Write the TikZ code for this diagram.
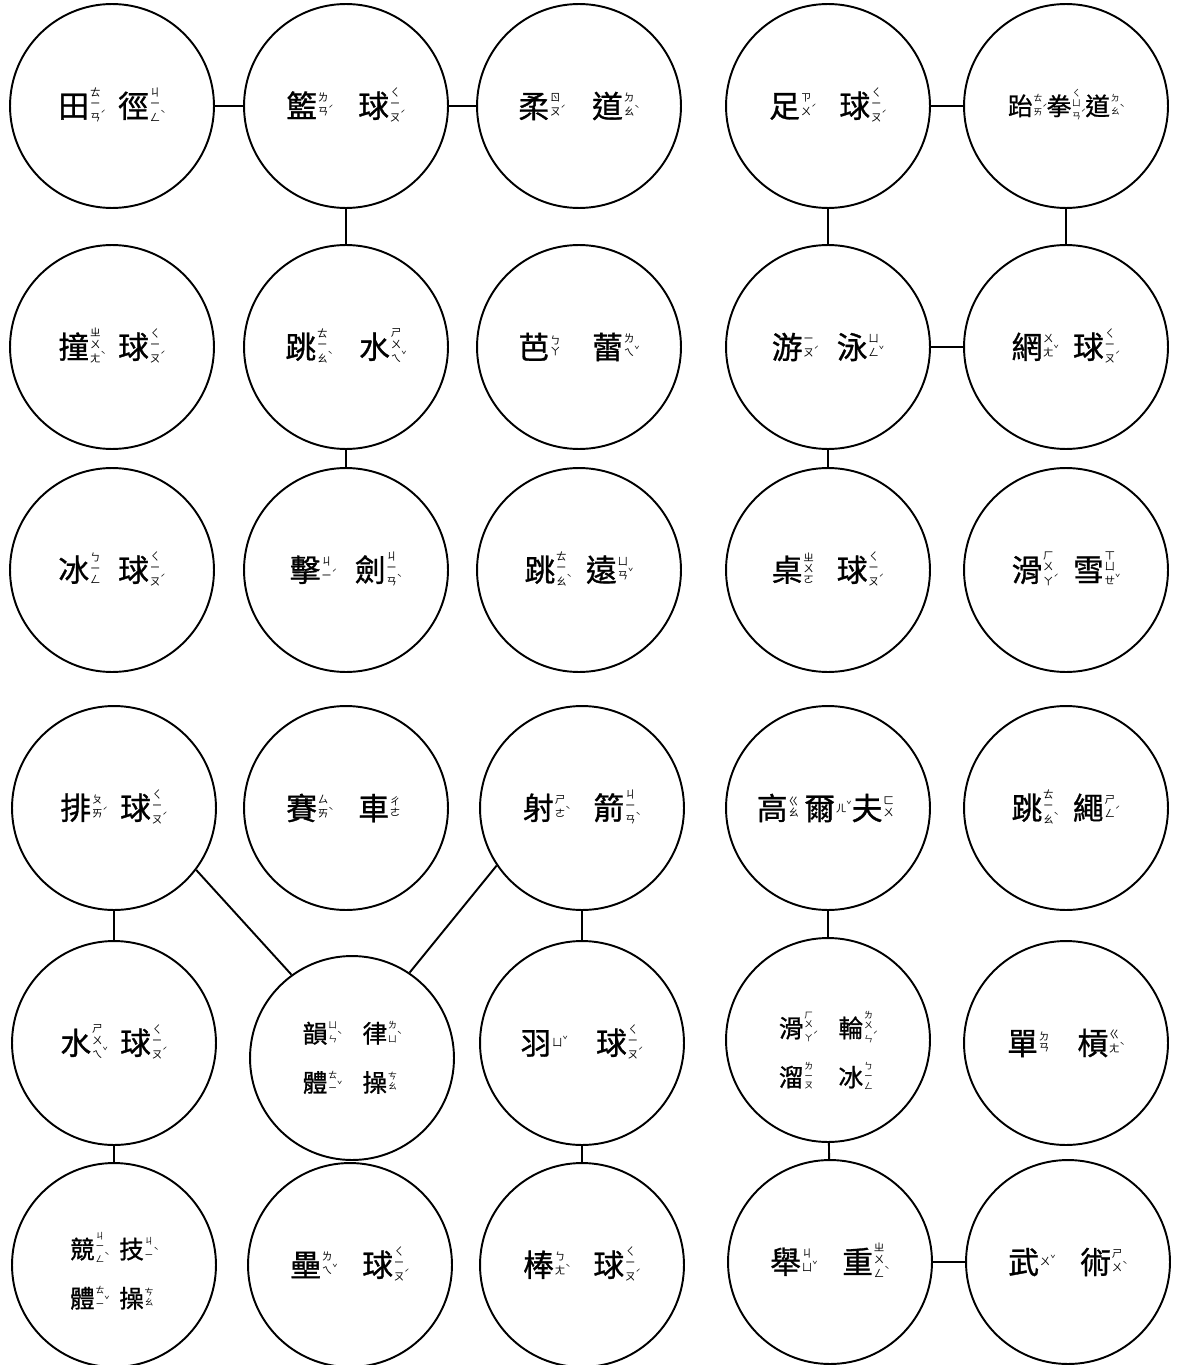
\documentclass[tikz,border=0pt]{standalone}
\usepackage{fontspec}
\newfontfamily\cjk{Noto Sans CJK TC}
\newfontfamily\hanzi{Noto Sans CJK TC}[FakeBold=1]

% 注音
\newcommand{\tn}[1]{\rlap{\raisebox{2pt}{\fontsize{5}{5}\selectfont #1}}}
\newcommand{\zy}[2]{{\hanzi\fontsize{17.5}{17.5}\selectfont #1}\kern0.5pt%
  \raisebox{5pt}{\fontsize{6}{6.2}\selectfont\begin{tabular}{@{}c@{}}#2\end{tabular}}\kern3pt}
\newcommand{\zys}[2]{{\hanzi\fontsize{14}{14}\selectfont #1}\kern0.5pt%
  \raisebox{4pt}{\fontsize{5}{5.4}\selectfont\begin{tabular}{@{}c@{}}#2\end{tabular}}\kern2.5pt}
\newcommand{\gap}[1][10pt]{\hspace{#1}}
\newcommand{\drop}[1]{\rule{0pt}{#1}}

\tikzset{
  ball/.style={circle, draw, line width=1.1pt, minimum size=4.08cm, inner sep=0pt, font=\cjk},
  ballii/.style={ball, align=center, font=\cjk\fontsize{10}{28}\selectfont},
  link/.style={line width=1.1pt}
}

\begin{document}
\begin{tikzpicture}[x=0.02cm, y=-0.02cm]
    \useasboundingbox (0,0) rectangle (1176,1365);

    % 上半
    \node[ball] (tianjing) at (112,106) {\zy{田}{ㄊ\\ㄧ\\ㄢ\tn{ˊ}}\gap[7pt]\zy{徑}{ㄐ\\ㄧ\\ㄥ\tn{ˋ}}};
    \node[ball] (lanqiu) at (346,106) {\zy{籃}{ㄌ\\ㄢ\tn{ˊ}}\gap[14pt]\zy{球}{ㄑ\\ㄧ\\ㄡ\tn{ˊ}}};
    \node[ball] (roudao) at (579,106) {\zy{柔}{ㄖ\\ㄡ\tn{ˊ}}\gap[15pt]\zy{道}{ㄉ\\ㄠ\tn{ˋ}}};
    \node[ball] (zuqiu) at (828,106) {\zy{足}{ㄗ\\ㄨ\tn{ˊ}}\gap[13pt]\zy{球}{ㄑ\\ㄧ\\ㄡ\tn{ˊ}}};
    \node[ball] (taiquandao) at (1066,106) {\zys{跆}{ㄊ\\ㄞ\tn{ˊ}}\zys{拳}{ㄑ\\ㄩ\\ㄢ\tn{ˊ}}\zys{道}{ㄉ\\ㄠ\tn{ˋ}}};

    \node[ball] (zhuangqiu) at (112,347) {\zy{撞}{ㄓ\\ㄨ\\ㄤ\tn{ˋ}}\gap[7pt]\zy{球}{ㄑ\\ㄧ\\ㄡ\tn{ˊ}}};
    \node[ball] (tiaoshui) at (346,347) {\zy{跳}{ㄊ\\ㄧ\\ㄠ\tn{ˋ}}\gap[15pt]\zy{水}{ㄕ\\ㄨ\\ㄟ\tn{ˇ}}};
    \node[ball] (balei) at (579,347) {\zy{芭}{ㄅ\\ㄚ}\gap[15pt]\zy{蕾}{ㄌ\\ㄟ\tn{ˇ}}};
    \node[ball] (youyong) at (828,347) {\zy{游}{ㄧ\\ㄡ\tn{ˊ}}\gap\zy{泳}{ㄩ\\ㄥ\tn{ˇ}}};
    \node[ball] (wangqiu) at (1066,347) {\zy{網}{ㄨ\\ㄤ\tn{ˇ}}\gap[8pt]\zy{球}{ㄑ\\ㄧ\\ㄡ\tn{ˊ}}};

    \node[ball] (bingqiu) at (112,570) {\zy{冰}{ㄅ\\ㄧ\\ㄥ}\gap[7pt]\zy{球}{ㄑ\\ㄧ\\ㄡ\tn{ˊ}}};
    \node[ball] (jijian) at (346,570) {\zy{擊}{ㄐ\\ㄧ\tn{ˊ}}\gap\zy{劍}{ㄐ\\ㄧ\\ㄢ\tn{ˋ}}};
    \node[ball] (tiaoyuan) at (579,570) {\zy{跳}{ㄊ\\ㄧ\\ㄠ\tn{ˋ}}\gap[8pt]\zy{遠}{ㄩ\\ㄢ\tn{ˇ}}};
    \node[ball] (zhuoqiu) at (828,570) {\zy{桌}{ㄓ\\ㄨ\\ㄛ}\gap\zy{球}{ㄑ\\ㄧ\\ㄡ\tn{ˊ}}};
    \node[ball] (huaxue) at (1066,570) {\zy{滑}{ㄏ\\ㄨ\\ㄚ\tn{ˊ}}\gap[8pt]\zy{雪}{ㄒ\\ㄩ\\ㄝ\tn{ˇ}}};

    % 下半
    \node[ball] (paiqiu) at (114,808) {\zy{排}{ㄆ\\ㄞ\tn{ˊ}}\gap[7pt]\zy{球}{ㄑ\\ㄧ\\ㄡ\tn{ˊ}}};
    \node[ball] (saiche) at (346,808) {\zy{賽}{ㄙ\\ㄞ\tn{ˋ}}\gap[14pt]\zy{車}{ㄔ\\ㄜ}};
    \node[ball] (shejian) at (582,808) {\zy{射}{ㄕ\\ㄜ\tn{ˋ}}\gap[13pt]\zy{箭}{ㄐ\\ㄧ\\ㄢ\tn{ˋ}}};
    \node[ball] (gaoerfu) at (828,808) {\zy{高}{ㄍ\\ㄠ}\zy{爾}{ㄦ\tn{ˇ}}\zy{夫}{ㄈ\\ㄨ}};
    \node[ball] (tiaosheng) at (1066,808) {\zy{跳}{ㄊ\\ㄧ\\ㄠ\tn{ˋ}}\gap[8pt]\zy{繩}{ㄕ\\ㄥ\tn{ˊ}}};

    \node[ball] (shuiqiu) at (114,1043) {\zy{水}{ㄕ\\ㄨ\\ㄟ\tn{ˇ}}\gap[7pt]\zy{球}{ㄑ\\ㄧ\\ㄡ\tn{ˊ}}};
    \node[ballii] (yunlv) at (352,1058) {\zys{韻}{ㄩ\\ㄣ\tn{ˋ}}\gap[12pt]\zys{律}{ㄌ\\ㄩ\tn{ˋ}}\\
        \zys{體}{ㄊ\\ㄧ\tn{ˇ}}\gap[12pt]\zys{操}{ㄘ\\ㄠ}};
    \node[ball] (yuqiu) at (582,1043) {\zy{羽}{ㄩ\tn{ˇ}}\gap[16pt]\zy{球}{ㄑ\\ㄧ\\ㄡ\tn{ˊ}}};
    \node[ballii] (liubing) at (828,1040) {\drop{28pt}\zys{滑}{ㄏ\\ㄨ\\ㄚ\tn{ˊ}}\gap[12pt]\zys{輪}{ㄌ\\ㄨ\\ㄣ\tn{ˊ}}\\
        \zys{溜}{ㄌ\\ㄧ\\ㄡ}\gap[12pt]\zys{冰}{ㄅ\\ㄧ\\ㄥ}};
    \node[ball] (dangang) at (1066,1043) {\zy{單}{ㄉ\\ㄢ}\gap[13pt]\zy{槓}{ㄍ\\ㄤ\tn{ˋ}}};

    \node[ballii] (jingji) at (114,1265) {\drop{22pt}\zys{競}{ㄐ\\ㄧ\\ㄥ\tn{ˋ}}\gap[6pt]\zys{技}{ㄐ\\ㄧ\tn{ˋ}}\\
        \zys{體}{ㄊ\\ㄧ\tn{ˇ}}\gap[6pt]\zys{操}{ㄘ\\ㄠ}};
    \node[ball] (leiqiu) at (350,1265) {\zy{壘}{ㄌ\\ㄟ\tn{ˇ}}\gap[14pt]\zy{球}{ㄑ\\ㄧ\\ㄡ\tn{ˊ}}};
    \node[ball] (bangqiu) at (582,1265) {\zy{棒}{ㄅ\\ㄤ\tn{ˋ}}\gap[13pt]\zy{球}{ㄑ\\ㄧ\\ㄡ\tn{ˊ}}};
    \node[ball] (juzhong) at (830,1262) {\zy{舉}{ㄐ\\ㄩ\tn{ˇ}}\gap[14pt]\zy{重}{ㄓ\\ㄨ\\ㄥ\tn{ˋ}}};
    \node[ball] (wushu) at (1068,1262) {\zy{武}{ㄨ\tn{ˇ}}\gap[14pt]\zy{術}{ㄕ\\ㄨ\tn{ˋ}}};

    % 連線
    \foreach \a/\b in {tianjing/lanqiu, lanqiu/roudao, lanqiu/tiaoshui, tiaoshui/jijian,
        zuqiu/taiquandao, zuqiu/youyong, taiquandao/wangqiu, youyong/wangqiu, youyong/zhuoqiu,
        paiqiu/shuiqiu, shejian/yuqiu, shuiqiu/jingji, yuqiu/bangqiu,
        gaoerfu/liubing, liubing/juzhong, juzhong/wushu}
        \draw[link] (\a) -- (\b);
    \draw[link] (paiqiu.-37) -- (yunlv.126);
    \draw[link] (shejian.214) -- (yunlv.56);
\end{tikzpicture}
\end{document}
